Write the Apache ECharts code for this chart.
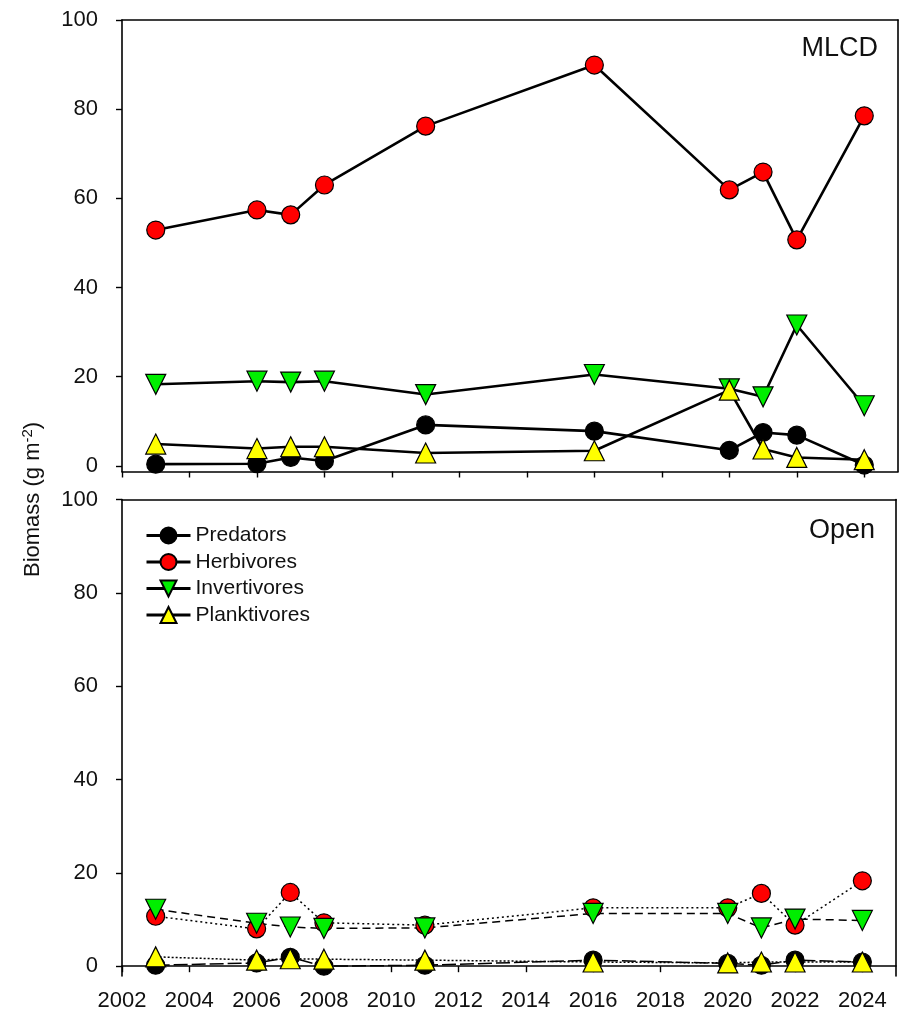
<!DOCTYPE html>
<html>
<head>
<meta charset="utf-8">
<script src="https://cdn.jsdelivr.net/npm/echarts@6/dist/echarts.min.js"></script>
<style>
    html, body { margin: 0; padding: 0; background: #fff; }
    #main { width: 902px; height: 1012px; }
</style>
</head>
<body>
<div id="main"></div>
<script>
// survey years
var years = [2003, 2006, 2007, 2008, 2011, 2016, 2020, 2021, 2022, 2024];
var xTicks = [2002, 2004, 2006, 2008, 2010, 2012, 2014, 2016, 2018, 2020, 2022, 2024];
var yTicks = [0, 20, 40, 60, 80, 100];

// MLCD (top panel)
var mlcdPredators = [0.4, 0.5, 1.9, 1.1, 9.2, 7.8, 3.5, 7.5, 6.9, 0.2];
var mlcdHerbivores = [52.9, 57.4, 56.3, 63.0, 76.2, 89.9, 61.9, 65.9, 50.7, 78.5];
var mlcdInvertivores = [18.3, 19.0, 18.8, 19.0, 16.0, 20.5, 17.3, 15.5, 31.6, 13.5];
var mlcdPlanktivores = [4.9, 3.9, 4.3, 4.3, 2.9, 3.4, 17.0, 3.8, 1.9, 1.4];

// Open (bottom panel)
var openPredators = [0.2, 0.7, 1.9, 0.0, 0.2, 1.3, 0.6, 0.2, 1.3, 0.9];
var openHerbivores = [10.7, 8.0, 15.8, 9.3, 8.8, 12.5, 12.5, 15.6, 8.8, 18.3];
var openInvertivores = [12.2, 9.2, 8.4, 8.1, 8.2, 11.3, 11.3, 8.2, 10.1, 9.8];
var openPlanktivores = [2.0, 1.3, 1.6, 1.5, 1.3, 0.9, 0.7, 0.9, 0.9, 0.9];

var groups = [
    {name: 'Predators', color: '#000000', symbol: 'circle', size: 18, rotate: 0, dash: [14, 4]},
    {name: 'Herbivores', color: '#ff0000', symbol: 'circle', size: 18, rotate: 0, dash: [2, 3]},
    {name: 'Invertivores', color: '#00ee00', symbol: 'triangle', size: 20, rotate: 180, dash: [8, 5]},
    {name: 'Planktivores', color: '#ffff00', symbol: 'triangle', size: 20, rotate: 0, dash: [2, 2]}
];

var font = 'Liberation Sans, Arial, sans-serif';

function pairs(vals) {
    var out = [];
    for (var i = 0; i < years.length; i++) {
        out.push([years[i], vals[i]]);
    }
    return out;
}

function makeSeries(g, vals, idx, top) {
    return {
        name: g.name,
        type: 'line',
        xAxisIndex: idx,
        yAxisIndex: idx,
        data: pairs(vals),
        symbol: g.symbol,
        symbolSize: g.size,
        symbolRotate: g.rotate,
        clip: false,
        lineStyle: {color: '#000', width: top ? 2.6 : 1.5, type: top ? 'solid' : g.dash},
        itemStyle: {color: g.color, borderColor: '#000', borderWidth: 1.2, opacity: 1},
        emphasis: {disabled: true}
    };
}

function xAxisFor(idx, showLabels) {
    return {
        type: 'value', gridIndex: idx, min: 2002, max: 2025,
        axisLine: {onZero: showLabels, lineStyle: {color: '#000', width: 1.6}},
        axisTick: {show: true, length: 6, inside: false, customValues: xTicks, lineStyle: {color: '#000', width: 1.4}},
        axisLabel: {
            show: showLabels, customValues: xTicks, margin: 14, color: '#111', fontSize: 22, fontFamily: font,
            formatter: function (v) { return String(v); }
        },
        splitLine: {show: false}
    };
}

function yAxisFor(idx, min) {
    return {
        type: 'value', gridIndex: idx, min: min, max: 100,
        axisLine: {show: true, lineStyle: {color: '#000', width: 1.6}},
        axisTick: {show: true, length: 6, customValues: yTicks, lineStyle: {color: '#000', width: 1.4}},
        axisLabel: {customValues: yTicks, margin: 24, color: '#111', fontSize: 22, fontFamily: font},
        splitLine: {show: false}
    };
}

// frame lines (top and right) drawn as bare axes
function frameX(idx) {
    return {
        type: 'value', gridIndex: idx, position: 'top', min: 2002, max: 2025,
        axisLine: {onZero: false, lineStyle: {color: '#000', width: 1.6}},
        axisTick: {show: false}, axisLabel: {show: false}, splitLine: {show: false}
    };
}
function frameY(idx) {
    return {
        type: 'value', gridIndex: idx, position: 'right', min: 0, max: 100,
        axisLine: {show: true, onZero: false, lineStyle: {color: '#000', width: 1.6}},
        axisTick: {show: false}, axisLabel: {show: false}, splitLine: {show: false}
    };
}

var series = [];
var topVals = [mlcdPredators, mlcdHerbivores, mlcdInvertivores, mlcdPlanktivores];
var botVals = [openPredators, openHerbivores, openInvertivores, openPlanktivores];
for (var k = 0; k < groups.length; k++) {
    series.push(makeSeries(groups[k], topVals[k], 0, true));
}
for (var k = 0; k < groups.length; k++) {
    series.push(makeSeries(groups[k], botVals[k], 1, false));
}

var myChart = echarts.init(document.getElementById('main'));

var option = {
    animation: false,
    backgroundColor: '#fff',
    grid: [
        {left: 122, top: 20, width: 776, height: 451.5},
        {left: 122, top: 499.5, width: 774, height: 485.5}
    ],
    xAxis: [xAxisFor(0, false), xAxisFor(1, true), frameX(0), frameX(1)],
    yAxis: [yAxisFor(0, -1.25), yAxisFor(1, -2.1), frameY(0), frameY(1)],
    legend: {
        orient: 'vertical',
        left: 140,
        top: 520,
        itemWidth: 44,
        itemHeight: 20,
        itemGap: 5.5,
        data: groups.map(function (g) { return g.name; }),
        lineStyle: {type: 'solid', width: 3, color: '#000'},
        textStyle: {fontSize: 21, fontFamily: font, color: '#111'},
        selectedMode: false
    },
    graphic: [
        {type: 'text', right: 24, top: 35, style: {text: 'MLCD', fontSize: 27, fontFamily: font, fill: '#111'}},
        {type: 'text', right: 27, top: 517, style: {text: 'Open', fontSize: 27, fontFamily: font, fill: '#111'}},
        {
            type: 'text', x: 20, y: 577, rotation: Math.PI / 2,
            style: {
                text: '{a|Biomass (g m}{s|-2}{a|)}',
                rich: {
                    a: {fontSize: 22, fontFamily: font, fill: '#111', lineHeight: 25},
                    s: {fontSize: 15, fontFamily: font, fill: '#111', lineHeight: 25, verticalAlign: 'top'}
                }
            }
        }
    ],
    series: series
};

myChart.setOption(option, true);
</script>
</body>
</html>
